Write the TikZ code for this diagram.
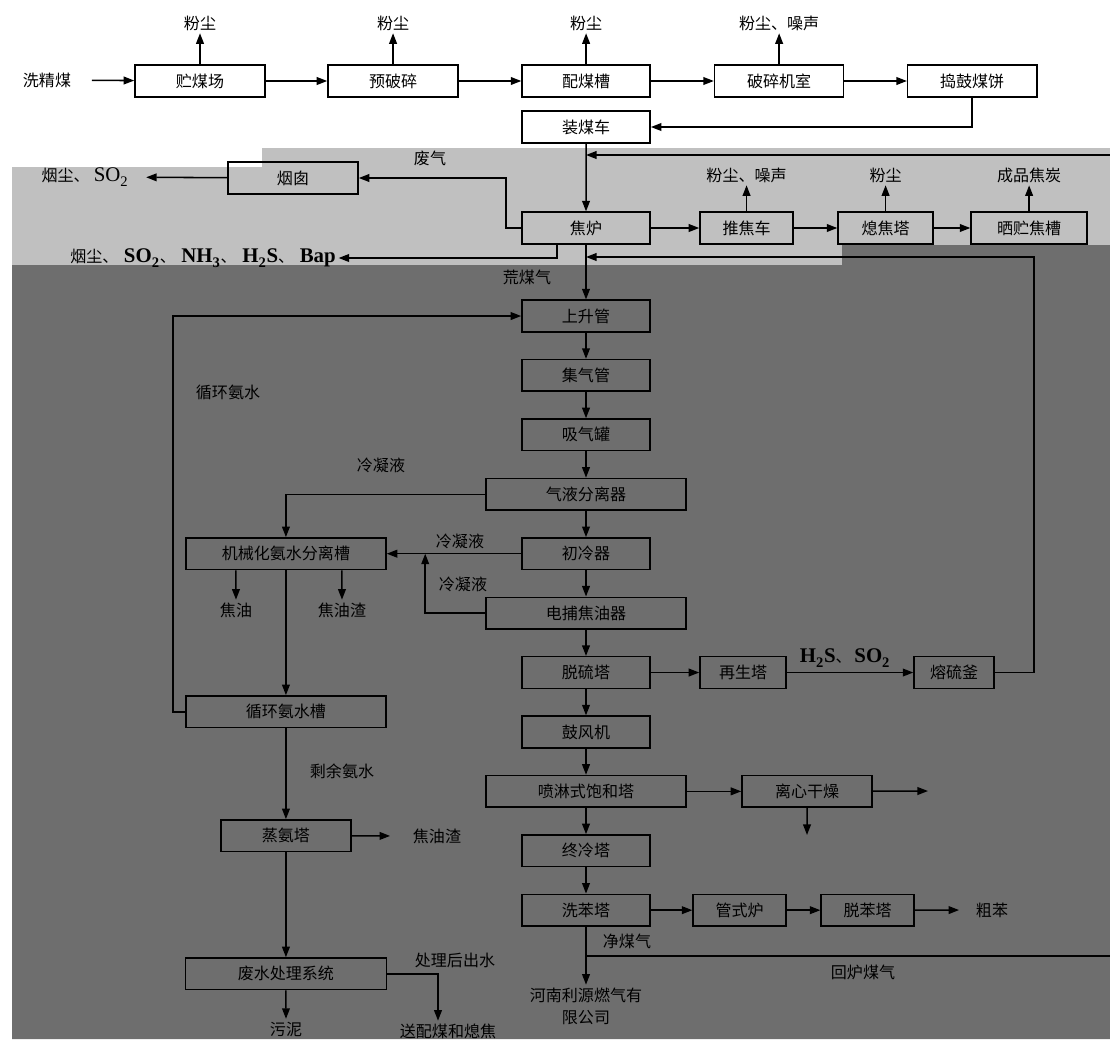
\documentclass[tikz,border=0pt]{standalone}
\usepackage{fontspec}
\setmainfont{Noto Sans CJK SC}
\newfontfamily\lat[Scale=1.3]{Liberation Serif}
\usetikzlibrary{positioning, arrows.meta, calc}

\definecolor{bandlight}{RGB}{192,192,192}
\definecolor{banddark}{RGB}{110,110,110}

\begin{document}
\begin{tikzpicture}[x=0.025cm, y=-0.025cm, line width=1.1pt,
    >={Triangle[length=7.5pt, width=5.5pt]},
    font=\fontsize{11.4}{15.7}\selectfont,
    node distance=4.825cm,
    box/.style={draw, minimum width=3.2cm, minimum height=0.79cm, inner sep=0pt},
    wide/.style={box, minimum width=5cm},
    lbl/.style={inner sep=1.5pt}]

    \useasboundingbox (0,0) rectangle (1110,1039);
    \fill[bandlight] (262,148) -- (1110,148) -- (1110,245) -- (842,245) -- (842,265)
        -- (12,265) -- (12,167) -- (262,167) -- cycle;
    \fill[banddark] (12,265) -- (842,265) -- (842,245) -- (1110,245) -- (1110,1039)
        -- (12,1039) -- cycle;

    % coal preparation
    \node[lbl] (xjm) at (47,80) {洗精煤};
    \node[box, minimum width=3.25cm] (zmc) at (200,81) {贮煤场};
    \node[box, minimum width=3.25cm, right of=zmc] (ypc) {预破碎};
    \node[box, right of=ypc] (pmc) {配煤槽};
    \node[box, minimum width=3.225cm, right of=pmc] (psj) {破碎机室};
    \node[box, minimum width=3.225cm, right of=psj] (dgmb) {捣鼓煤饼};
    \node[lbl, node distance=1.45cm, above of=zmc] (fc1) {粉尘};
    \node[lbl, node distance=1.45cm, above of=ypc] (fc2) {粉尘};
    \node[lbl, node distance=1.45cm, above of=pmc] (fc3) {粉尘};
    \node[lbl, node distance=1.45cm, above of=psj] (fc4) {粉尘、噪声};
    \node[box, node distance=1.15cm, below of=pmc] (zmcar) {装煤车};

    % coke oven
    \node[box] (jl) at (586,228) {焦炉};
    \node[box, minimum width=2.325cm, node distance=4.0125cm, right of=jl] (tjc) {推焦车};
    \node[box, minimum width=2.375cm, node distance=3.475cm, right of=tjc] (xjt) {熄焦塔};
    \node[box, minimum width=2.9cm, node distance=3.5875cm, right of=xjt] (szjc) {晒贮焦槽};
    \node[lbl, node distance=1.325cm, above of=tjc] (fc5) {粉尘、噪声};
    \node[lbl, node distance=1.325cm, above of=xjt] (fc6) {粉尘};
    \node[lbl, node distance=1.325cm, above of=szjc] (cpjt) {成品焦炭};
    \node[box, minimum width=3.25cm] (yc) at (293,178) {烟囱};
    \node[lbl] (ycout) at (85,177) {烟尘、\hspace{3pt}{\lat SO\textsubscript{2}}};
    \node[lbl] (pfout) at (203,258) {烟尘、\hspace{4pt}{\lat\bfseries SO\textsubscript{2}}、\hspace{4pt}{\lat\bfseries NH\textsubscript{3}}、\hspace{4pt}{\lat\bfseries H\textsubscript{2}S}、\hspace{4pt}{\lat\bfseries Bap}};
    \node[lbl] at (430,158) {废气};
    \node[lbl] at (527,277) {荒煤气};
    \coordinate (ret1) at (586,155);
    \coordinate (back1) at (1110,155);
    \coordinate (ret2) at (586,257);

    % gas cleaning line
    \node[box, node distance=2.2cm, below of=jl] (ssg) {上升管};
    \node[box, node distance=1.485cm, below of=ssg] (jqg) {集气管};
    \node[box, node distance=1.485cm, below of=jqg] (xqg) {吸气罐};
    \node[wide, node distance=1.485cm, below of=xqg] (qyfl) {气液分离器};
    \node[box, node distance=1.485cm, below of=qyfl] (clq) {初冷器};
    \node[wide, node distance=1.485cm, below of=clq] (dbj) {电捕焦油器};
    \node[box, node distance=1.485cm, below of=dbj] (tlt) {脱硫塔};
    \node[box, node distance=1.485cm, below of=tlt] (gfj) {鼓风机};
    \node[wide, node distance=1.485cm, below of=gfj] (plbh) {喷淋式饱和塔};
    \node[box, node distance=1.485cm, below of=plbh] (zlt) {终冷塔};
    \node[box, node distance=1.485cm, below of=zlt] (xbt) {洗苯塔};
    \node[lbl, align=center] (hnly) at (586,1006) {河南利源燃气有\\限公司};
    \node[lbl] at (627,941) {净煤气};
    \node[lbl] at (863,972) {回炉煤气};
    \coordinate (jmq) at (586,956);
    \coordinate (hlmq) at (1110,956);

    % side branches
    \node[box, minimum width=2.15cm, node distance=3.925cm, right of=tlt] (zst) {再生塔};
    \node[box, minimum width=2cm, node distance=5.275cm, right of=zst] (rlf) {熔硫釜};
    \node[lbl] at (845,658) {{\lat\bfseries H\textsubscript{2}S}、\hspace{2pt}{\lat\bfseries SO\textsubscript{2}}};
    \node[box, minimum width=3.25cm, node distance=5.525cm, right of=plbh] (lxgz) {离心干燥};
    \coordinate (lxout) at (928,791);
    \coordinate (lxdown) at (807,835);
    \node[box, minimum width=2.325cm, node distance=3.84cm, right of=xbt] (gsl) {管式炉};
    \node[box, minimum width=2.325cm, node distance=3.2cm, right of=gsl] (tbt) {脱苯塔};
    \node[lbl] (cb) at (992,910) {粗苯};

    % ammonia water
    \node[wide, node distance=7.5cm, left of=clq] (jxh) {机械化氨水分离槽};
    \node[wide, node distance=3.95cm, below of=jxh] (xhas) {循环氨水槽};
    \node[box, minimum width=3.25cm, node distance=3.1cm, below of=xhas] (zat) {蒸氨塔};
    \node[box, minimum width=5.025cm, node distance=3.45cm, below of=zat] (fscl) {废水处理系统};
    \node[lbl] (jy) at (236,610) {焦油};
    \node[lbl] (jyz1) at (342,610) {焦油渣};
    \node[lbl] (jyz2) at (437,836) {焦油渣};
    \node[lbl] (wn) at (286,1029) {污泥};
    \node[lbl] (spmj) at (448,1031) {送配煤和熄焦};
    \node[lbl] at (228,392) {循环氨水};
    \node[lbl] at (381,465) {冷凝液};
    \node[lbl] at (460,541) {冷凝液};
    \node[lbl] at (463,584) {冷凝液};
    \node[lbl] at (342,771) {剩余氨水};
    \node[lbl] at (455,960) {处理后出水};
    \coordinate (jct) at ($(clq.west)+(-96,0)$);

    \draw
        (xjm) edge[->, shorten <=0.45cm] (zmc)
        (zmc) edge[->] (ypc)
        (ypc) edge[->] (pmc)
        (pmc) edge[->] (psj)
        (psj) edge[->] (dgmb)
        (zmc) edge[->] (fc1)
        (ypc) edge[->] (fc2)
        (pmc) edge[->] (fc3)
        (psj) edge[->] (fc4)
        (zmcar) edge[->] (jl)
        (jl) edge[->] (tjc)
        (tjc) edge[->] (xjt)
        (xjt) edge[->] (szjc)
        (tjc) edge[->] (fc5)
        (xjt) edge[->] (fc6)
        (szjc) edge[->] (cpjt)
        (yc) edge[->, shorten >=0.37cm] (ycout)
        (back1) edge[->] (ret1)
        (jl) edge[->] (ssg)
        (ssg) edge[->] (jqg)
        (jqg) edge[->] (xqg)
        (xqg) edge[->] (qyfl)
        (qyfl) edge[->] (clq)
        (clq) edge[->] (dbj)
        (dbj) edge[->] (tlt)
        (tlt) edge[->] (gfj)
        (gfj) edge[->] (plbh)
        (plbh) edge[->] (zlt)
        (zlt) edge[->] (xbt)
        (xbt) edge[->] (hnly)
        (jmq) edge (hlmq)
        (tlt) edge[->] (zst)
        (zst) edge[->] (rlf)
        (plbh) edge[->] (lxgz)
        (lxgz) edge[->] (lxout)
        (lxgz) edge[->] (lxdown)
        (xbt) edge[->] (gsl)
        (gsl) edge[->] (tbt)
        (tbt) edge[->, shorten >=0.35cm] (cb)
        (clq) edge[->] (jxh)
        (jxh) edge[->] (xhas)
        (xhas) edge[->] (zat)
        (zat) edge[->, shorten >=0.5cm] (jyz2)
        (zat) edge[->] (fscl)
        (fscl) edge[->] (wn)
        ;

    \draw[->] (dgmb.south) |- (zmcar.east);
    \draw[->] (jl.west) -- ++(-15,0) |- (yc.east);
    \draw[->] ($(jl.south)+(-29,0)$) |- (pfout.east);
    \draw[->] (rlf.east) -- ++(39,0) |- (ret2);
    \draw[->] (qyfl.west) -| (jxh.north);
    \draw[->] (dbj.west) -| (jct);
    \draw[->] (xhas.west) -- ++(-12,0) |- (ssg.west);
    \draw[->] ($(jxh.south)+(-50,0)$) -- (jy);
    \draw[->] ($(jxh.south)+(56,0)$) -- (jyz1);
    \draw[->] (fscl.east) -| ($(spmj.north)+(-10,0)$);
\end{tikzpicture}
\end{document}
